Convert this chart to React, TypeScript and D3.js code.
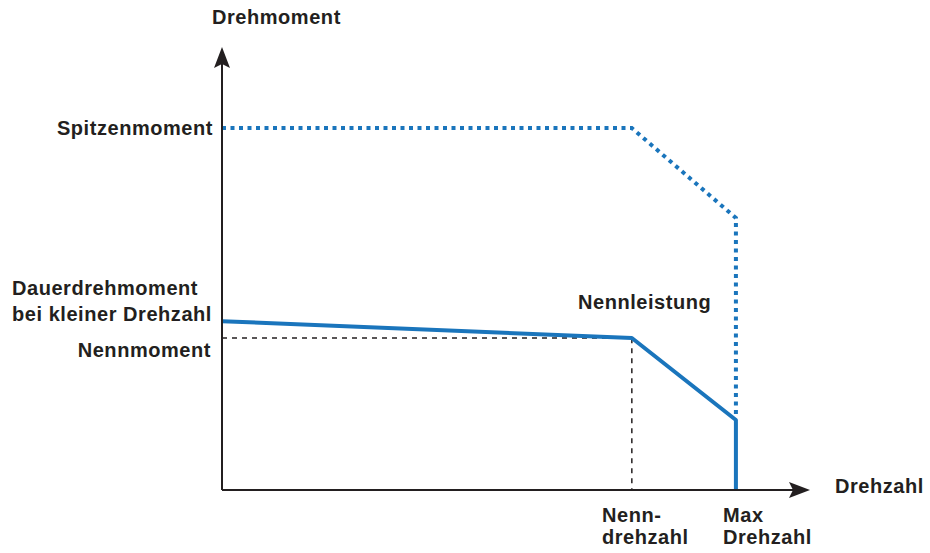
import * as d3 from "d3";

// abstract units: speed 0..100, torque 0..100
const peakSpeed = [0, 69.7, 87.4, 87.4];
const peakTorque = [81.7, 81.7, 61.4, 16.2];
const contSpeed = [0, 69.7, 87.4, 87.4];
const contTorque = [38.1, 34.3, 15.8, 0];
const nennSpeed = 69.7;
const nennTorque = 34.3;

const blue = "#1a75bc";
const ink = "#231f20";
const font = "'Liberation Sans', Arial, sans-serif";

export default function App() {
  const width = 930;
  const height = 553;
  const x0 = 222;
  const y0 = 490;

  const x = d3.scaleLinear().domain([0, 100]).range([x0, 810]);
  const y = d3.scaleLinear().domain([0, 100]).range([y0, 47]);

  const line = d3
    .line<[number, number]>()
    .x((d) => x(d[0]))
    .y((d) => y(d[1]));

  const peak = peakSpeed.map((s, i) => [s, peakTorque[i]] as [number, number]);
  const cont = contSpeed.map((s, i) => [s, contTorque[i]] as [number, number]);

  const txt = {
    fontFamily: font,
    fontWeight: 700,
    fontSize: 20,
    letterSpacing: 0.55,
    fill: ink,
  };

  return (
    <svg
      width={width}
      height={height}
      style={{ position: "absolute", left: 0, top: 0, background: "#fff" }}
    >
      {/* helper dashed lines */}
      <path
        d={`M${x(0)},${y(nennTorque)}H${x(nennSpeed)}V${y(0)}`}
        fill="none"
        stroke={ink}
        strokeWidth={1.5}
        strokeDasharray="5,5"
      />

      {/* peak torque (dotted) */}
      <path
        d={line(peak) ?? ""}
        fill="none"
        stroke={blue}
        strokeWidth={4}
        strokeDasharray="4,4.5"
      />

      {/* continuous torque */}
      <path
        d={line(cont) ?? ""}
        fill="none"
        stroke={blue}
        strokeWidth={4}
        strokeLinejoin="round"
      />

      {/* axes */}
      <line x1={x0} y1={y0} x2={x0} y2={62} stroke={ink} strokeWidth={2} />
      <path d={`M${x0},47 L${x0 + 8},68 L${x0},64 L${x0 - 8},68 Z`} fill={ink} />
      <line x1={x0} y1={y0} x2={795} y2={y0} stroke={ink} strokeWidth={2} />
      <path d={`M810,${y0} L789,${y0 - 8} L793,${y0} L789,${y0 + 8} Z`} fill={ink} />

      {/* labels */}
      <text x={212} y={24} {...txt}>Drehmoment</text>
      <text x={213} y={135} textAnchor="end" {...txt}>Spitzenmoment</text>
      <text x={12} y={295} {...txt}>Dauerdrehmoment</text>
      <text x={12} y={321} {...txt}>bei kleiner Drehzahl</text>
      <text x={211} y={357} textAnchor="end" {...txt}>Nennmoment</text>
      <text x={578} y={309} {...txt}>Nennleistung</text>
      <text x={602} y={522} {...txt}>Nenn-</text>
      <text x={602} y={544} {...txt}>drehzahl</text>
      <text x={723} y={522} {...txt}>Max</text>
      <text x={723} y={544} {...txt}>Drehzahl</text>
      <text x={835} y={493} {...txt}>Drehzahl</text>
    </svg>
  );
}
